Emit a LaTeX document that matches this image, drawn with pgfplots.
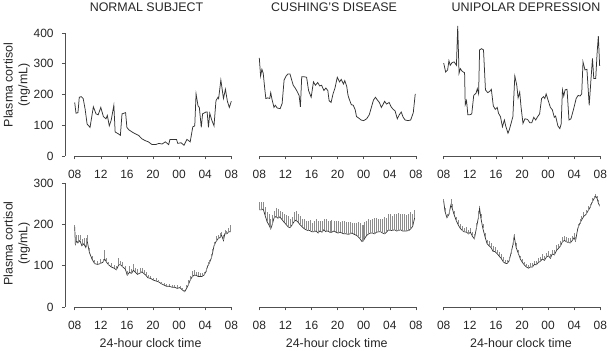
\documentclass[border=0pt]{standalone}
\usepackage{pgfplots}
\pgfplotsset{compat=1.18}
\usepackage{fontspec}
\setmainfont{Liberation Sans}
\definecolor{ink}{HTML}{262626}
\definecolor{axisgray}{HTML}{505050}
\definecolor{linegray}{HTML}{333333}
\definecolor{bargray}{HTML}{8C8C8C}
\newcommand\lblfont{\fontsize{12.5}{14}\selectfont}
\pgfplotsset{
  panel/.style={
    scale only axis, width=156.6bp, anchor=south west,
    xmin=0, xmax=24, xtick={0,4,...,24}, xticklabels={08,12,16,20,00,04,08},
    axis x line*=bottom,
    tick align=outside, major tick length=3.5bp,
    every tick/.style={axisgray, line width=0.5bp},
    axis line style={axisgray, line width=0.5bp},
    ticklabel style={font=\fontsize{12}{14}\selectfont, text=ink, inner sep=0pt},
    xticklabel style={anchor=north, yshift=-10bp},
    yticklabel style={anchor=east, xshift=-8bp},
    clip=false,
    /pgf/number format/assume math mode=true,
  },
  top/.style={panel, height=123bp, ymin=0, ymax=400},
  bot/.style={panel, height=124bp, ymin=0, ymax=300},
  yleft/.style={axis y line*=left, axis y line shift=9.4bp},
  ynone/.style={axis y line=none},
  trace/.style={linegray, line width=0.75bp, mark=none},
  band/.style={linegray, line width=0.7bp, mark=none,
    error bars/.cd, y dir=plus, y explicit, error mark=none,
    error bar style={bargray, line width=0.5bp}},
}
\begin{document}
\begin{tikzpicture}
\useasboundingbox (0,0) rectangle (608bp,351bp);
% ---------- top row ----------
\begin{axis}[top, yleft, at={(74.7bp,195bp)}, ytick={0,100,...,400}]
\addplot[trace] coordinates {(0,174)(0.2,139)(0.5,141)(0.7,191)(1.0,193)(1.3,187)(1.6,152)(1.9,104)(2.35,93)(2.86,160)(3.27,137)(3.6,134)(4.0,158)(4.4,128)(4.8,121)(5.0,132)(5.3,98)(5.6,117)(6.0,165)(6.2,78)(6.7,72)(7.0,67)(7.25,137)(7.8,141)(8.0,93)(8.3,85)(8.8,78)(9.3,72)(9.8,67)(10.3,56)(10.8,50)(11.3,46)(11.85,37)(12.4,37)(12.9,41)(13.4,39)(13.9,46)(14.4,37)(14.6,54)(15.1,54)(15.6,54)(15.8,41)(16.3,43)(16.75,35)(17.2,54)(17.7,46)(18.1,95)(18.4,98)(18.6,202)(18.9,163)(19.1,158)(19.4,93)(19.6,137)(20.1,143)(20.3,143)(20.5,93)(20.7,139)(21.0,117)(21.35,98)(21.65,180)(21.96,191)(22.06,187)(22.4,247)(22.8,187)(23.1,217)(23.4,178)(23.7,158)(24.0,178)};
\end{axis}
\begin{axis}[top, ynone, at={(259.3bp,195bp)}]
\addplot[trace] coordinates {(0,319)(0.2,260)(0.4,282)(0.6,269)(0.8,226)(1.0,187)(1.3,189)(1.6,187)(1.75,206)(1.95,184)(2.25,158)(2.45,165)(2.75,156)(3.2,154)(3.5,171)(3.8,247)(4.1,260)(4.4,267)(4.7,267)(4.9,252)(5.2,230)(5.5,221)(5.8,210)(6.1,197)(6.3,160)(6.5,258)(6.8,258)(7.25,256)(7.55,213)(7.95,191)(8.3,241)(8.6,230)(8.95,239)(9.25,228)(9.55,230)(9.9,213)(10.2,221)(10.5,213)(10.7,180)(11.0,174)(11.3,202)(11.6,221)(11.95,256)(12.3,241)(12.55,249)(12.9,234)(13.1,245)(13.4,226)(13.6,197)(13.8,184)(14.1,167)(14.4,165)(14.7,150)(14.9,128)(15.2,124)(15.6,117)(16.0,115)(16.45,121)(16.85,134)(17.2,160)(17.5,182)(17.8,191)(18.1,182)(18.4,174)(18.7,158)(19.0,169)(19.2,178)(19.5,169)(19.9,174)(20.2,160)(20.5,152)(20.8,147)(21.15,121)(21.45,134)(21.75,143)(22.05,126)(22.35,117)(22.8,115)(23.2,117)(23.6,141)(23.9,202)};
\end{axis}
\begin{axis}[top, ynone, at={(443.7bp,195bp)}]
\addplot[trace] coordinates {(0,302)(0.3,273)(0.6,280)(0.8,310)(1.0,295)(1.3,304)(1.6,306)(1.95,295)(2.15,423)(2.35,269)(2.55,284)(2.85,275)(3.2,271)(3.3,167)(3.5,180)(3.7,134)(4.0,134)(4.3,137)(4.6,197)(4.95,204)(5.15,219)(5.35,202)(5.5,345)(5.8,349)(6.1,345)(6.4,215)(6.75,206)(7.05,210)(7.3,217)(7.6,163)(7.9,152)(8.2,158)(8.4,139)(8.7,128)(9.0,95)(9.3,117)(9.5,98)(9.85,74)(10.05,85)(10.3,104)(10.6,128)(10.9,260)(11.2,230)(11.4,189)(11.65,208)(11.85,160)(12.15,106)(12.45,121)(12.85,119)(13.2,108)(13.5,108)(13.8,126)(14.1,117)(14.4,128)(14.7,137)(15.0,187)(15.3,193)(15.5,187)(15.7,202)(16.05,178)(16.35,158)(16.65,150)(16.95,126)(17.15,130)(17.5,98)(17.8,89)(18.0,104)(18.2,215)(18.4,195)(18.6,215)(18.9,217)(19.2,117)(19.5,121)(19.9,152)(20.3,187)(20.6,197)(20.9,195)(21.15,202)(21.35,306)(21.65,280)(21.95,282)(22.3,165)(22.6,258)(22.8,317)(23.0,252)(23.3,252)(23.5,332)(23.7,390)(23.9,293)};
\end{axis}
% ---------- bottom row ----------
\begin{axis}[bot, yleft, at={(74.7bp,44bp)}, ytick={0,100,...,300}]
\addplot[band] table[x=h, y=v, y error=e] {
h v e
0 194 5
0.1 152 18
0.3 160 15
0.5 155 18
0.8 161 12
1.1 148 16
1.4 153 14
1.7 144 22
1.9 161 12
2.25 132 10
2.65 116 8
3.05 105 8
3.5 103 8
3.9 105 10
4.3 108 8
4.6 116 22
4.9 108 10
5.2 102 8
5.6 97 10
6.0 94 8
6.4 90 8
6.75 102 16
7.05 102 10
7.35 97 12
7.75 92 8
8.05 77 10
8.4 84 14
8.7 81 10
9.0 89 16
9.3 84 10
9.6 79 14
10.0 82 12
10.3 85 10
10.6 81 8
10.9 77 8
11.2 71 6
11.65 69 6
12.05 65 6
12.45 63 6
12.85 61 5
13.3 56 5
13.7 53 5
14.1 50 5
14.5 50 5
14.9 48 6
15.3 48 5
15.7 45 8
16.1 47 5
16.45 42 5
16.85 37 4
17.15 45 8
17.4 53 12
17.7 65 10
18.0 73 15
18.3 77 12
18.6 77 8
18.9 74 10
19.2 74 8
19.5 74 8
19.8 77 8
20.1 85 10
20.4 100 8
20.6 105 8
20.95 119 10
21.15 132 8
21.35 148 10
21.65 158 14
21.95 165 10
22.25 168 12
22.5 174 8
22.8 161 14
23.0 177 10
23.3 177 8
23.6 182 10
23.9 182 16
};
\end{axis}
\begin{axis}[bot, ynone, at={(259.3bp,44bp)}]
\addplot[band] table[x=h, y=v, y error=e] {
h v e
0 235 18
0.3 235 20
0.6 237 18
0.9 221 22
1.2 206 25
1.5 198 28
1.75 189 25
1.95 198 25
2.25 215 18
2.55 219 20
2.85 215 22
3.15 218 15
3.5 211 18
3.8 205 20
4.1 200 22
4.4 194 25
4.7 192 22
5.0 198 20
5.3 206 25
5.6 210 22
5.9 206 18
6.2 200 20
6.55 194 20
6.85 190 22
7.15 187 20
7.45 185 22
7.75 185 25
8.05 182 22
8.4 182 25
8.7 184 28
9.0 179 30
9.3 184 25
9.6 181 28
9.9 187 25
10.2 182 30
10.5 184 25
10.8 181 28
11.1 181 30
11.45 184 25
11.75 181 28
12.05 179 30
12.35 181 25
12.65 179 28
12.95 177 30
13.3 177 28
13.6 176 30
13.9 177 28
14.2 179 25
14.5 176 28
14.8 174 30
15.1 171 35
15.4 166 38
15.75 158 40
15.95 160 38
16.15 166 40
16.45 173 35
16.75 177 35
17.05 179 32
17.35 179 35
17.65 177 38
17.95 181 35
18.3 182 32
18.6 182 30
18.9 179 35
19.2 177 40
19.5 181 35
19.8 187 38
20.1 185 40
20.4 185 35
20.7 187 38
21.05 184 40
21.35 185 42
21.65 187 38
21.95 184 40
22.25 184 42
22.55 184 38
22.9 185 40
23.2 189 42
23.5 195 30
23.8 215 20
};
\end{axis}
\begin{axis}[bot, ynone, at={(443.7bp,44bp)}]
\addplot[band] table[x=h, y=v, y error=e] {
h v e
0 256 6
0.2 231 8
0.5 216 10
0.8 224 10
1.1 247 14
1.3 239 10
1.6 223 10
1.95 208 10
2.25 198 12
2.55 190 10
2.85 185 12
3.15 182 10
3.5 181 12
3.8 177 10
4.1 181 10
4.4 171 10
4.7 165 12
5.0 190 14
5.3 215 18
5.5 239 5
5.7 215 10
6.0 190 10
6.35 169 10
6.65 153 10
6.95 148 12
7.25 144 10
7.55 135 12
7.85 134 10
8.2 129 10
8.5 123 10
8.8 118 10
9.1 110 10
9.4 106 8
9.7 105 8
10.0 111 10
10.3 129 12
10.6 150 14
10.8 171 6
11.1 144 10
11.45 129 10
11.75 116 8
12.05 108 8
12.35 102 8
12.65 97 8
13.0 94 8
13.3 97 10
13.6 97 10
13.9 103 8
14.2 102 10
14.5 108 10
14.8 110 10
15.1 116 12
15.45 113 10
15.75 121 10
16.05 124 12
16.35 118 10
16.65 129 10
16.95 126 12
17.3 137 12
17.6 142 10
17.9 148 12
18.2 158 12
18.5 161 10
18.8 158 12
19.1 156 10
19.4 155 12
19.7 161 10
20.0 168 12
20.2 160 10
20.55 190 12
20.85 202 12
21.15 211 10
21.45 219 12
21.8 224 10
22.1 232 12
22.4 240 10
22.7 252 12
23.0 261 8
23.3 268 6
23.5 263 6
23.7 252 8
23.9 244 6
};
\end{axis}
% ---------- text ----------
\begin{scope}[every node/.style={font=\lblfont, text=ink, inner sep=0pt}]
\node[anchor=base] at (146.5bp,339.7bp) {NORMAL SUBJECT};
\node[anchor=base] at (334bp,339.7bp) {CUSHING'S DISEASE};
\node[anchor=base] at (526bp,339.7bp) {UNIPOLAR DEPRESSION};
\node[rotate=90, anchor=base] at (12.5bp,266bp) {Plasma cortisol};
\node[rotate=90, anchor=base] at (27.3bp,266bp) {(ng/mL)};
\node[rotate=90, anchor=base] at (12.5bp,107.5bp) {Plasma cortisol};
\node[rotate=90, anchor=base] at (27.3bp,107.5bp) {(ng/mL)};
\node[anchor=base] at (150.6bp,4bp) {24-hour clock time};
\node[anchor=base] at (336.7bp,4bp) {24-hour clock time};
\node[anchor=base] at (521bp,4bp) {24-hour clock time};
\end{scope}
\end{tikzpicture}
\end{document}
